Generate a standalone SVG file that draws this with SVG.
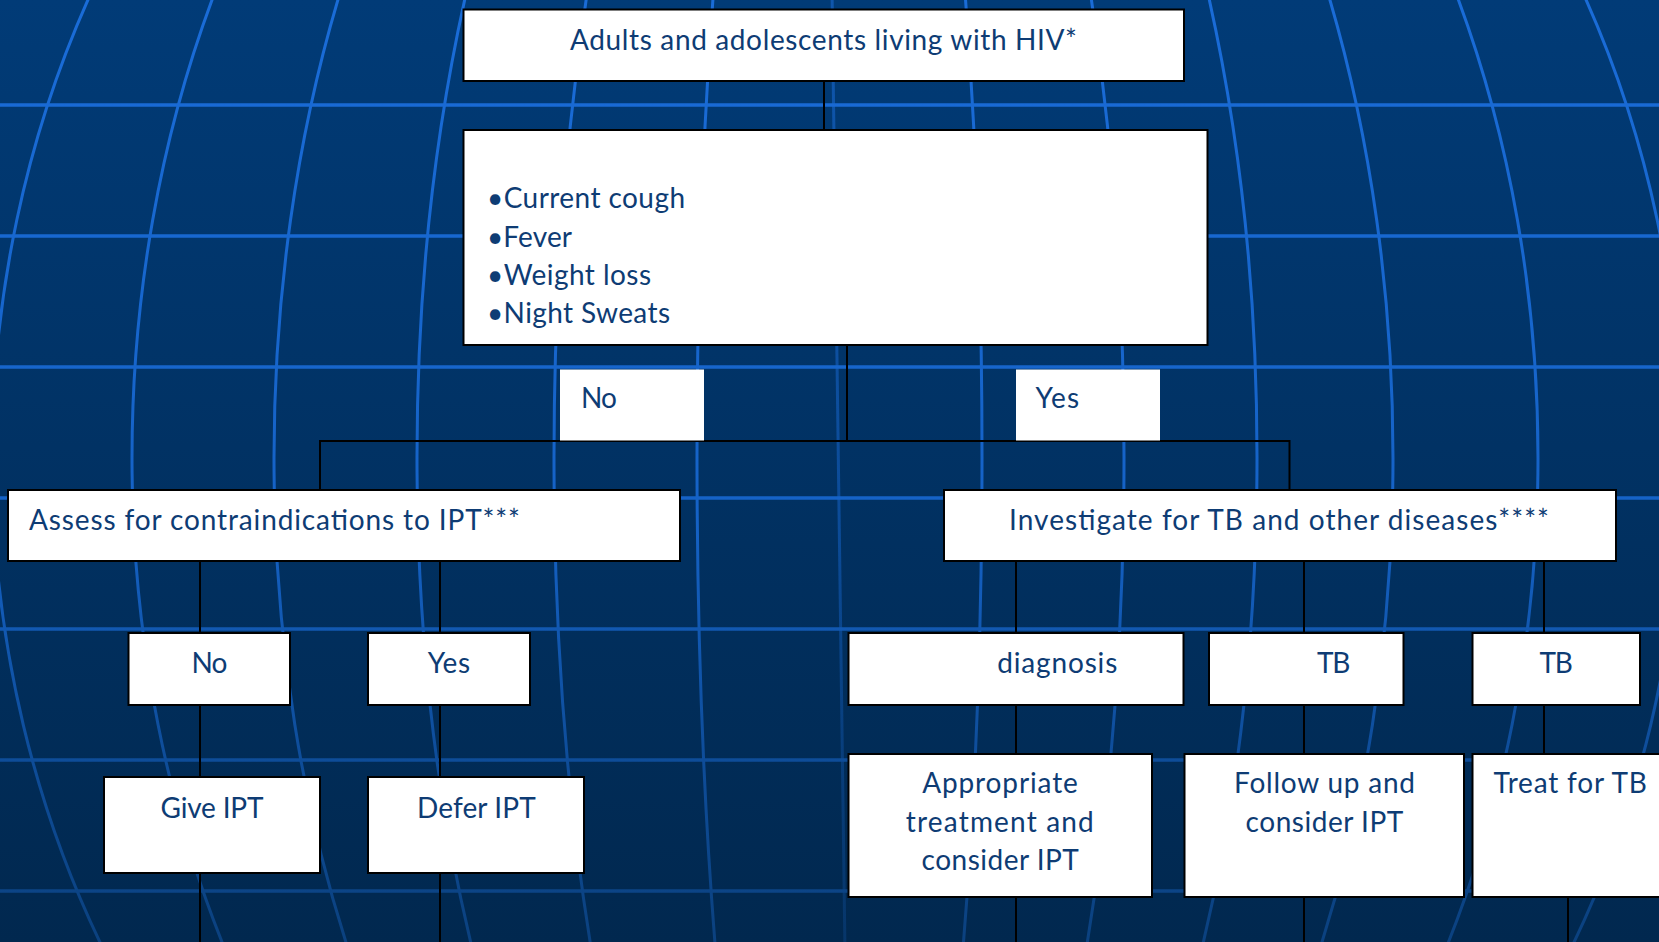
<svg xmlns="http://www.w3.org/2000/svg" width="1659" height="942" viewBox="0 0 1659 942">
<style>
.bg-line{fill:none;stroke:url(#lineGrad);stroke-width:3.5}
.mer{fill:none;stroke:url(#lineGrad);stroke-width:3}
.box{fill:#fff;stroke:#000;stroke-width:2}
.lbl{fill:#fff;stroke:none}
.t{font-family:Lato,"Open Sans","Liberation Sans",sans-serif;font-size:28px;fill:#0e3c74}
.conn{fill:none;stroke:#000;stroke-width:2}
</style>
<defs>
<linearGradient id="bgGrad" x1="0" y1="0" x2="0" y2="942" gradientUnits="userSpaceOnUse">
<stop offset="0" stop-color="#013b77"/>
<stop offset="1" stop-color="#01284f"/>
</linearGradient>
<linearGradient id="lineGrad" x1="0" y1="0" x2="0" y2="942" gradientUnits="userSpaceOnUse">
<stop offset="0" stop-color="#1a6cd8"/>
<stop offset="0.55" stop-color="#1562c6"/>
<stop offset="0.8" stop-color="#0e4d9a"/>
<stop offset="1" stop-color="#0b417f"/>
</linearGradient>
</defs>
<g id="background">
<rect x="0" y="0" width="1659" height="942" fill="url(#bgGrad)"/>
<g id="parallels">
<line class="bg-line" x1="0" y1="105" x2="1659" y2="105"/>
<line class="bg-line" x1="0" y1="236" x2="1659" y2="236"/>
<line class="bg-line" x1="0" y1="367" x2="1659" y2="367"/>
<line class="bg-line" x1="0" y1="498" x2="1659" y2="498"/>
<line class="bg-line" x1="0" y1="629" x2="1659" y2="629"/>
<line class="bg-line" x1="0" y1="760" x2="1659" y2="760"/>
<line class="bg-line" x1="0" y1="891" x2="1659" y2="891"/>
</g>
<g id="meridians">
<path class="mer" d="M92.4,-10 A845,990 0 0 0 104.7,952"/>
<path class="mer" d="M215.75,-10 A705,990 0 0 0 226.04,952"/>
<path class="mer" d="M340.88,-10 A563,990 0 0 0 349.1,952"/>
<path class="mer" d="M466.89,-10 A420,990 0 0 0 473.02,952"/>
<path class="mer" d="M587.62,-10 A283,990 0 0 0 591.75,952"/>
<path class="mer" d="M713.63,-10 A140,990 0 0 0 715.67,952"/>
<path class="mer" d="M832,-10 Q838,470 845,952" opacity="0.55"/>
<path class="mer" d="M964.78,-10 A145,990 0 0 1 962.66,952"/>
<path class="mer" d="M1089.91,-10 A287,990 0 0 1 1085.72,952"/>
<path class="mer" d="M1207.11,-10 A420,990 0 0 1 1200.98,952"/>
<path class="mer" d="M1326.95,-10 A556,990 0 0 1 1318.83,952"/>
<path class="mer" d="M1454.73,-10 A701,990 0 0 1 1444.49,952"/>
<path class="mer" d="M1581.62,-10 A845,990 0 0 1 1569.29,952"/>
</g>
</g>
<g id="connectors">
<line class="conn" x1="824" y1="81" x2="824" y2="130"/>
<line class="conn" x1="847" y1="345" x2="847" y2="441"/>
<polyline class="conn" points="320,490 320,441 1289.5,441 1289.5,490"/>
<line class="conn" x1="200" y1="561" x2="200" y2="633"/>
<line class="conn" x1="440" y1="561" x2="440" y2="633"/>
<line class="conn" x1="200" y1="705" x2="200" y2="777"/>
<line class="conn" x1="440" y1="705" x2="440" y2="777"/>
<line class="conn" x1="200" y1="873" x2="200" y2="942"/>
<line class="conn" x1="440" y1="873" x2="440" y2="942"/>
<line class="conn" x1="1016" y1="561" x2="1016" y2="633"/>
<line class="conn" x1="1304" y1="561" x2="1304" y2="633"/>
<line class="conn" x1="1544" y1="561" x2="1544" y2="633"/>
<line class="conn" x1="1016" y1="705" x2="1016" y2="754"/>
<line class="conn" x1="1304" y1="705" x2="1304" y2="754"/>
<line class="conn" x1="1544" y1="705" x2="1544" y2="754"/>
<line class="conn" x1="1016" y1="897" x2="1016" y2="942"/>
<line class="conn" x1="1304" y1="897" x2="1304" y2="942"/>
<line class="conn" x1="1568" y1="897" x2="1568" y2="942"/>
</g>
<g id="node-hiv">
<rect class="box" x="463.5" y="9.5" width="720.5" height="71.5"/>
<text class="t" x="570" y="50" textLength="507">Adults and adolescents living with HIV*</text>
</g>
<g id="node-symptoms">
<rect class="box" x="463.5" y="130" width="744" height="215"/>
<text class="t" x="487" y="208" textLength="198">•Current cough</text>
<text class="t" x="487" y="246.5" textLength="85">•Fever</text>
<text class="t" x="487" y="285" textLength="164">•Weight loss</text>
<text class="t" x="487" y="323" textLength="183">•Night Sweats</text>
</g>
<g id="label-no">
<rect class="lbl" x="560" y="369.5" width="144" height="71"/>
<text class="t" x="581" y="408" textLength="36">No</text>
</g>
<g id="label-yes">
<rect class="lbl" x="1016" y="369.5" width="144" height="71"/>
<text class="t" x="1035.5" y="408" textLength="43.5">Yes</text>
</g>
<g id="node-assess">
<rect class="box" x="8" y="490" width="672" height="71"/>
<text class="t" x="29" y="530" textLength="491">Assess for contraindications to IPT***</text>
</g>
<g id="node-investigate">
<rect class="box" x="944" y="490" width="672" height="71"/>
<text class="t" x="1009" y="530" textLength="540">Investigate for TB and other diseases****</text>
</g>
<g id="node-no2">
<rect class="box" x="128.5" y="633" width="161.5" height="72"/>
<text class="t" x="191.5" y="673" textLength="36">No</text>
</g>
<g id="node-yes2">
<rect class="box" x="368" y="633" width="162" height="72"/>
<text class="t" x="427.7" y="673" textLength="42.3">Yes</text>
</g>
<g id="node-give">
<rect class="box" x="104" y="777" width="216" height="96"/>
<text class="t" x="160.5" y="817.5" textLength="103">Give IPT</text>
</g>
<g id="node-defer">
<rect class="box" x="368" y="777" width="216" height="96"/>
<text class="t" x="417" y="817.5" textLength="118.7">Defer IPT</text>
</g>
<g id="node-diagnosis">
<rect class="box" x="848.5" y="633" width="335" height="72"/>
<text class="t" x="997.3" y="673" textLength="120">diagnosis</text>
</g>
<g id="node-tb1">
<rect class="box" x="1209" y="633" width="194.5" height="72"/>
<text class="t" x="1317" y="673" textLength="33.4">TB</text>
</g>
<g id="node-tb2">
<rect class="box" x="1472.5" y="633" width="167.5" height="72"/>
<text class="t" x="1539.4" y="673" textLength="33.4">TB</text>
</g>
<g id="node-appropriate">
<rect class="box" x="848.5" y="754" width="303.5" height="143"/>
<text class="t" x="922.2" y="793" textLength="155.6">Appropriate</text>
<text class="t" x="905.8" y="831.7" textLength="188">treatment and</text>
<text class="t" x="921.6" y="870" textLength="157.3">consider IPT</text>
</g>
<g id="node-followup">
<rect class="box" x="1184.5" y="754" width="279.5" height="143"/>
<text class="t" x="1234" y="793" textLength="181">Follow up and</text>
<text class="t" x="1245.6" y="832" textLength="157.8">consider IPT</text>
</g>
<g id="node-treat">
<rect class="box" x="1472.5" y="754" width="220" height="143"/>
<text class="t" x="1493.4" y="793" textLength="153.5">Treat for TB</text>
</g>
</svg>
